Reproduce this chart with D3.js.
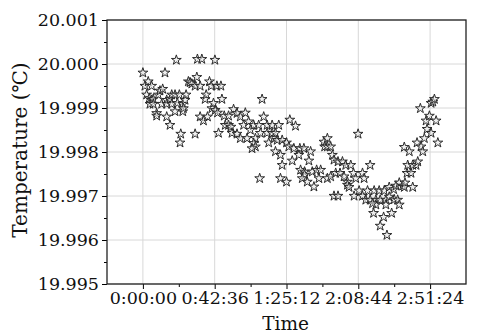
<!DOCTYPE html>
<html>
<head>
<meta charset="utf-8">
<script src="https://cdn.jsdelivr.net/npm/d3@7/dist/d3.min.js"></script>
<style>
  body { margin: 0; background: #fff; }
  svg text { font-family: "DejaVu Serif", "Liberation Serif", serif; fill: #111; }
</style>
</head>
<body>
<div id="chart"></div>
<script>
// elapsed time in minutes, temperature in degrees C
const timeMin = [
  0.0, 1.19, 3.16, 5.18, 2.20, 3.75, 5.18, 6.14, 4.17, 6.14,
  8.16, 8.16, 9.12, 10.13, 11.74, 11.14, 14.12, 14.12, 14.12, 13.11,
  16.09, 17.10, 17.10, 16.09, 19.07, 19.07, 19.84, 20.44, 21.63, 22.46,
  22.04, 23.65, 23.65, 24.01, 25.02, 25.62, 26.99, 28.00, 29.02, 30.98,
  30.98, 31.99, 32.35, 33.96, 33.96, 34.97, 35.93, 36.94, 37.54, 38.31,
  39.50, 40.51, 40.93, 41.88, 42.72, 42.90, 43.91, 44.27, 44.86, 46.29,
  46.89, 48.26, 48.86, 50.82, 50.82, 52.25, 52.85, 53.80, 55.83, 55.83,
  57.79, 57.79, 59.76, 60.77, 61.78, 62.74, 63.75, 65.72, 66.73, 65.72,
  66.73, 64.76, 68.70, 69.71, 69.29, 70.72, 71.67, 73.70, 73.70, 74.65,
  76.68, 76.68, 77.63, 78.65, 78.65, 79.66, 80.61, 81.62, 82.64, 82.64,
  81.62, 85.20, 85.20, 87.17, 90.56, 86.57, 89.55, 93.12, 95.51, 92.53,
  88.60, 99.50, 93.54, 95.92, 95.92, 94.55, 97.53, 98.49, 101.47, 100.51,
  103.07, 105.46, 104.44, 107.42, 109.45, 107.84, 109.45, 111.41, 112.43, 113.38,
  115.76, 118.39, 120.35, 123.33, 109.45, 111.41, 114.39, 116.95, 119.34, 121.36,
  121.36, 122.32, 124.94, 126.31, 127.68, 130.30, 131.26, 134.83, 113.38, 115.76,
  125.30, 128.28, 130.30, 133.28, 137.21, 140.19, 143.17, 146.15, 132.27, 134.83,
  138.23, 140.79, 144.18, 146.15, 149.13, 151.15, 152.11, 138.23, 144.18, 136.85,
  142.81, 147.58, 140.79, 144.78, 148.77, 150.14, 152.11, 154.13, 155.09, 155.50,
  160.09, 156.70, 159.08, 157.11, 160.09, 162.06, 163.07, 155.09, 158.07, 162.65,
  165.04, 166.05, 167.00, 164.62, 168.02, 169.98, 168.61, 170.99, 173.97, 174.99,
  170.99, 172.01, 172.96, 136.26
];
const tempC = [
  19.99980, 19.99950, 19.99960, 19.99950, 19.99930, 19.99922, 19.99918, 19.99920, 19.99909, 19.99909,
  19.99888, 19.99882, 19.99930, 19.99939, 19.99943, 19.99909, 19.99918, 19.99909, 19.99880, 19.99980,
  19.99920, 19.99930, 19.99909, 19.99861, 19.99930, 19.99892, 20.00009, 19.99911, 19.99930, 19.99841,
  19.99821, 19.99909, 19.99892, 19.99899, 19.99918, 19.99930, 19.99960, 19.99958, 19.99955, 19.99950,
  19.99841, 19.99970, 20.00011, 19.99950, 19.99880, 20.00011, 19.99871, 19.99920, 19.99930, 19.99880,
  19.99960, 19.99950, 19.99899, 19.99911, 20.00009, 19.99895, 19.99950, 19.99889, 19.99843, 19.99950,
  19.99920, 19.99882, 19.99861, 19.99882, 19.99861, 19.99857, 19.99843, 19.99897, 19.99888, 19.99841,
  19.99880, 19.99831, 19.99861, 19.99889, 19.99831, 19.99869, 19.99850, 19.99861, 19.99831, 19.99820,
  19.99812, 19.99808, 19.99861, 19.99843, 19.99740, 19.99920, 19.99880, 19.99861, 19.99843, 19.99821,
  19.99861, 19.99843, 19.99831, 19.99843, 19.99801, 19.99827, 19.99861, 19.99793, 19.99827, 19.99770,
  19.99740, 19.99821, 19.99732, 19.99873, 19.99859, 19.99812, 19.99808, 19.99808, 19.99808, 19.99793,
  19.99780, 19.99801, 19.99759, 19.99755, 19.99748, 19.99740, 19.99732, 19.99780, 19.99721, 19.99755,
  19.99759, 19.99759, 19.99740, 19.99823, 19.99831, 19.99812, 19.99812, 19.99812, 19.99793, 19.99782,
  19.99778, 19.99778, 19.99770, 19.99770, 19.99740, 19.99744, 19.99752, 19.99752, 19.99744, 19.99732,
  19.99725, 19.99720, 19.99752, 19.99740, 19.99841, 19.99752, 19.99740, 19.99770, 19.99700, 19.99700,
  19.99700, 19.99712, 19.99700, 19.99712, 19.99712, 19.99712, 19.99712, 19.99720, 19.99691, 19.99691,
  19.99691, 19.99691, 19.99691, 19.99698, 19.99692, 19.99691, 19.99680, 19.99680, 19.99680, 19.99661,
  19.99652, 19.99661, 19.99632, 19.99611, 19.99715, 19.99723, 19.99730, 19.99723, 19.99720, 19.99730,
  19.99720, 19.99752, 19.99752, 19.99770, 19.99770, 19.99770, 19.99778, 19.99811, 19.99801, 19.99821,
  19.99812, 19.99801, 19.99831, 19.99899, 19.99871, 19.99882, 19.99852, 19.99843, 19.99871, 19.99821,
  19.99911, 19.99914, 19.99920, 19.99683
];

const xTickMin = [0, 42.6, 85.2, 127.8, 170.4];
const xTickLabels = ["0:00:00", "0:42:36", "1:25:12", "2:08:44", "2:51:24"];
const yTicks = [19.995, 19.996, 19.997, 19.998, 19.999, 20.000, 20.001];

const W = 478, H = 333;
const margin = { top: 20, right: 12, bottom: 49, left: 107 };

const svg = d3.select("#chart").append("svg")
  .attr("width", W)
  .attr("height", H);

const x = d3.scaleLinear()
  .domain([-21.3, 191.7])
  .range([margin.left, W - margin.right]);

const y = d3.scaleLinear()
  .domain([19.995, 20.001])
  .range([H - margin.bottom, margin.top]);

// grid
const grid = svg.append("g").attr("stroke", "#d8d8d8").attr("stroke-width", 1);
grid.selectAll(".gx").data(xTickMin).enter().append("line")
  .attr("x1", d => x(d)).attr("x2", d => x(d))
  .attr("y1", margin.top).attr("y2", H - margin.bottom);
grid.selectAll(".gy").data(yTicks).enter().append("line")
  .attr("x1", margin.left).attr("x2", W - margin.right)
  .attr("y1", d => y(d)).attr("y2", d => y(d));

// minor ticks halfway between the majors
const xMinor = xTickMin.slice(0, -1).map((d, i) => (d + xTickMin[i + 1]) / 2);
const yMinor = yTicks.slice(0, -1).map((d, i) => (d + yTicks[i + 1]) / 2);

// x axis
const xAxis = svg.append("g")
  .attr("transform", `translate(0,${H - margin.bottom})`)
  .call(d3.axisBottom(x).tickValues(xTickMin).tickFormat((d, i) => xTickLabels[i]).tickSize(5).tickPadding(3));
xAxis.select(".domain").remove();
xAxis.selectAll("text").style("font-size", "17.5px").attr("fill", "#111");
svg.append("g")
  .attr("transform", `translate(0,${H - margin.bottom})`)
  .call(d3.axisBottom(x).tickValues(xMinor).tickFormat("").tickSize(3))
  .select(".domain").remove();

// y axis
const yAxis = svg.append("g")
  .attr("transform", `translate(${margin.left},0)`)
  .call(d3.axisLeft(y).tickValues(yTicks).tickFormat(d3.format(".3f")).tickSize(5).tickPadding(3));
yAxis.select(".domain").remove();
yAxis.selectAll("text").style("font-size", "17.5px").attr("fill", "#111");
svg.append("g")
  .attr("transform", `translate(${margin.left},0)`)
  .call(d3.axisLeft(y).tickValues(yMinor).tickFormat("").tickSize(3))
  .select(".domain").remove();

// frame
svg.append("rect")
  .attr("x", margin.left).attr("y", margin.top)
  .attr("width", W - margin.left - margin.right)
  .attr("height", H - margin.top - margin.bottom)
  .attr("fill", "none").attr("stroke", "#222").attr("stroke-width", 1.3);

// points
const star = d3.symbol().type(d3.symbolStar).size(30);
svg.append("g").selectAll("path")
  .data(d3.range(timeMin.length))
  .enter().append("path")
  .attr("transform", i => `translate(${x(timeMin[i])},${y(tempC[i])})`)
  .attr("d", star)
  .attr("fill", "#e6e6e6")
  .attr("fill-opacity", 0.6)
  .attr("stroke", "#2a2a2a")
  .attr("stroke-width", 1);

// titles
svg.append("text")
  .attr("x", (margin.left + W - margin.right) / 2 - 1)
  .attr("y", 330)
  .attr("text-anchor", "middle")
  .style("font-size", "18.5px")
  .text("Time");

svg.append("text")
  .attr("transform", `translate(27,${(margin.top + H - margin.bottom) / 2 - 2}) rotate(-90)`)
  .attr("text-anchor", "middle")
  .style("font-size", "20px")
  .text("Temperature (℃)");
</script>
</body>
</html>
